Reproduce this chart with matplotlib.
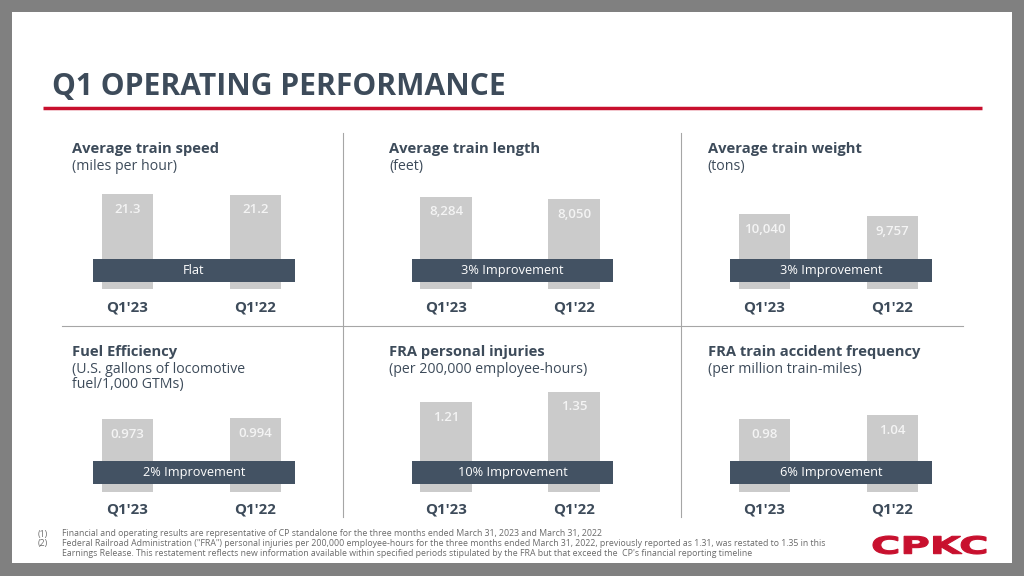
import matplotlib
matplotlib.use('Agg')
import matplotlib.pyplot as plt
import matplotlib.transforms as mtransforms
from matplotlib.patches import Rectangle, PathPatch
from matplotlib.textpath import TextPath
from matplotlib.font_manager import FontProperties

# dati del grafico
metrics = ['Average train speed', 'Average train length', 'Average train weight',
           'Fuel Efficiency', 'FRA personal injuries', 'FRA train accident frequency']
units = ['(miles per hour)', '(feet)', '(tons)',
         '(U.S. gallons of locomotive\nfuel/1,000 GTMs)', '(per 200,000 employee-hours)',
         '(per million train-miles)']
periods = ["Q1'23", "Q1'22"]
q1_23 = [21.3, 8284, 10040, 0.973, 1.21, 0.98]
q1_22 = [21.2, 8050, 9757, 0.994, 1.35, 1.04]
changes = ['Flat', '3% Improvement', '3% Improvement',
           '2% Improvement', '10% Improvement', '6% Improvement']
# limite superiore dell'asse y di ogni pannello (scala delle barre)
ymax = [29.2, 11670, 17470, 1.75, 1.755, 1.76]

footnotes = [
    ('(1)', 'Financial and operating results are representative of CP standalone for the three months ended March 31, 2023 and March 31, 2022'),
    ('(2)', 'Federal Railroad Administration ("FRA") personal injuries per 200,000 employee-hours for the three months ended March 31, 2022, previously reported as 1.31, was restated to 1.35 in this'),
    ('', "Earnings Release. This restatement reflects new information available within specified periods stipulated by the FRA but that exceed the  CP's financial reporting timeline"),
]

W, H = 1024, 576
SLATE = '#3d4b5a'
BAND = '#435263'
BAR = '#cbcbcb'
RED = '#c8102e'
FONT = 'Open Sans'

fig = plt.figure(figsize=(W / 100, H / 100), dpi=100, facecolor='#808080')

def fx(x):
    return x / W

def fy(y):
    return 1 - y / H

# sfondo bianco della slide
fig.patches.append(Rectangle((fx(12), fy(562.5)), fx(1000), (562.5 - 12) / H,
                             transform=fig.transFigure, facecolor='white', edgecolor='none', zorder=-5))

# titolo e linea rossa
fig.text(fx(52), fy(95), 'Q1 OPERATING PERFORMANCE', family=FONT, weight='bold',
         fontsize=21.6, color=SLATE, va='baseline', ha='left')
fig.add_artist(plt.Line2D([fx(42.5), fx(982)], [fy(107.7), fy(107.7)], transform=fig.transFigure,
                          color=RED, linewidth=2.5, solid_capstyle='butt'))

# linee divisorie
for xv in [343, 681]:
    fig.add_artist(plt.Line2D([fx(xv), fx(xv)], [fy(133), fy(517)], transform=fig.transFigure,
                              color='#a6a6a6', linewidth=0.8))
fig.add_artist(plt.Line2D([fx(62), fx(963)], [fy(326), fy(326)], transform=fig.transFigure,
                          color='#a6a6a6', linewidth=0.8))

col_bar1 = [127.5, 446, 764.5]
title_x = [72, 389, 707.5]
row_bottom = [289, 491.7]
title_base = [153.3, 356]
sub_base = [170, 372.7]
label_base = [311.7, 513.3]
AX_H = 130.0

for i in range(6):
    r, c = divmod(i, 3)
    left = col_bar1[c] - 64
    ax = fig.add_axes([fx(left), fy(row_bottom[r]), 256 / W, AX_H / H])
    ax.set_xlim(-0.5, 1.5)
    ax.set_ylim(0, ymax[i])
    ax.axis('off')

    vals = [q1_23[i], q1_22[i]]
    ax.bar([0, 1], vals, width=0.4, color=BAR, zorder=1)
    for k, v in enumerate(vals):
        ax.annotate(f'{v:,}', (k, v), xytext=(0, -13.5), textcoords='offset points',
                    ha='center', va='baseline', color='#f4f4f4', family=FONT,
                    weight='semibold', fontsize=9.5, zorder=3)

    # fascia con la variazione
    tb = mtransforms.blended_transform_factory(ax.transData, ax.transAxes)
    b0, b1 = 7.3 / AX_H, 30.3 / AX_H
    x0, x1 = -0.2 - 8.5 / 128, 1.2 + 13.5 / 128
    ax.add_patch(Rectangle((x0, b0), x1 - x0, b1 - b0, transform=tb,
                           facecolor=BAND, edgecolor='none', zorder=2, clip_on=False))
    ax.text((x0 + x1) / 2, (b0 + b1) / 2, changes[i], transform=tb, ha='center', va='center',
            color='white', family=FONT, fontsize=9.2, zorder=3)

    for k, p in enumerate(periods):
        ax.text(k, -(label_base[r] - row_bottom[r]) / AX_H, p, transform=tb, ha='center',
                va='baseline', color=SLATE, family=FONT, weight='bold', fontsize=10.8)

    fig.text(fx(title_x[c]), fy(title_base[r]), metrics[i], family=FONT, weight='bold',
             fontsize=10.6, color=SLATE, va='baseline')
    for j, line in enumerate(units[i].split('\n')):
        fig.text(fx(title_x[c]), fy(sub_base[r] + 15.5 * j), line, family=FONT,
                 fontsize=10.2, color=SLATE, va='baseline')

# note a pie' di pagina
for j, (num, txt) in enumerate(footnotes):
    y = fy(534 + 9.7 * j)
    if num:
        fig.text(fx(38), y, num, family=FONT, fontsize=6.3, color='#6a6a6a', va='center')
    fig.text(fx(61.5), y, txt, family=FONT, fontsize=6.3, color='#6a6a6a', va='center')

# logo CPKC
tp = TextPath((0, 0), 'CPKC', size=1, prop=FontProperties(family='DejaVu Sans', weight='bold'))
bb = tp.get_extents()
tr = (mtransforms.Affine2D().translate(-bb.x0, -bb.y0)
      .scale(113 / bb.width, 18 / bb.height)
      .translate(873, H - 554)
      .scale(1 / W, 1 / H) + fig.transFigure)
fig.patches.append(PathPatch(tp, transform=tr, facecolor=RED, edgecolor=RED, linewidth=0.8))

fig.savefig('out.png', dpi=100, facecolor=fig.get_facecolor())
